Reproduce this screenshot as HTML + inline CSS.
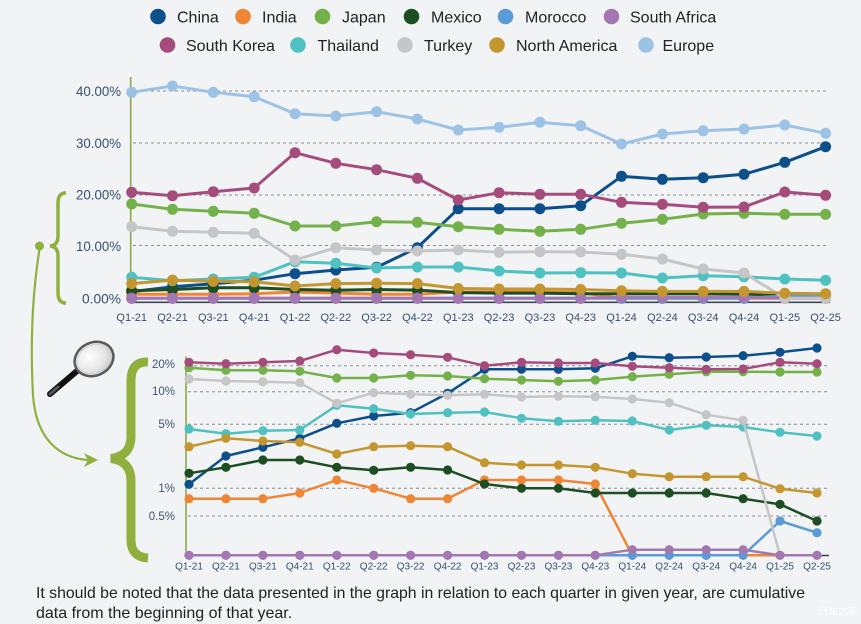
<!DOCTYPE html>
<html>
<head>
<meta charset="utf-8">
<style>
  html, body { margin:0; padding:0; background:#f2f3f5; }
  body { width:861px; height:624px; overflow:hidden; }
  svg { display:block; font-family:"Liberation Sans", Arial, sans-serif; }
</style>
</head>
<body>
<svg width="861" height="624" viewBox="0 0 861 624" xmlns="http://www.w3.org/2000/svg">
  <defs>
    <marker id="tChina" markerWidth="12" markerHeight="12" refX="6" refY="6" markerUnits="userSpaceOnUse"><circle cx="6" cy="6" r="5.5" fill="#0d4f8b"/></marker>
    <marker id="tIndia" markerWidth="12" markerHeight="12" refX="6" refY="6" markerUnits="userSpaceOnUse"><circle cx="6" cy="6" r="5.5" fill="#ef8636"/></marker>
    <marker id="tJapan" markerWidth="12" markerHeight="12" refX="6" refY="6" markerUnits="userSpaceOnUse"><circle cx="6" cy="6" r="5.5" fill="#74b14a"/></marker>
    <marker id="tMexico" markerWidth="12" markerHeight="12" refX="6" refY="6" markerUnits="userSpaceOnUse"><circle cx="6" cy="6" r="5.5" fill="#1d4d22"/></marker>
    <marker id="tMorocco" markerWidth="12" markerHeight="12" refX="6" refY="6" markerUnits="userSpaceOnUse"><circle cx="6" cy="6" r="5.5" fill="#5b9bd5"/></marker>
    <marker id="tSA" markerWidth="12" markerHeight="12" refX="6" refY="6" markerUnits="userSpaceOnUse"><circle cx="6" cy="6" r="5.5" fill="#a477b2"/></marker>
    <marker id="tSK" markerWidth="12" markerHeight="12" refX="6" refY="6" markerUnits="userSpaceOnUse"><circle cx="6" cy="6" r="5.5" fill="#a54c7c"/></marker>
    <marker id="tThai" markerWidth="12" markerHeight="12" refX="6" refY="6" markerUnits="userSpaceOnUse"><circle cx="6" cy="6" r="5.5" fill="#4fc1c0"/></marker>
    <marker id="tTurkey" markerWidth="12" markerHeight="12" refX="6" refY="6" markerUnits="userSpaceOnUse"><circle cx="6" cy="6" r="5.5" fill="#c6c6c6"/></marker>
    <marker id="tNA" markerWidth="12" markerHeight="12" refX="6" refY="6" markerUnits="userSpaceOnUse"><circle cx="6" cy="6" r="5.5" fill="#c4962f"/></marker>
    <marker id="tEU" markerWidth="12" markerHeight="12" refX="6" refY="6" markerUnits="userSpaceOnUse"><circle cx="6" cy="6" r="5.5" fill="#9cc3e6"/></marker>

    <marker id="bChina" markerWidth="10" markerHeight="10" refX="5" refY="5" markerUnits="userSpaceOnUse"><circle cx="5" cy="5" r="4.6" fill="#0d4f8b"/></marker>
    <marker id="bIndia" markerWidth="10" markerHeight="10" refX="5" refY="5" markerUnits="userSpaceOnUse"><circle cx="5" cy="5" r="4.6" fill="#ef8636"/></marker>
    <marker id="bJapan" markerWidth="10" markerHeight="10" refX="5" refY="5" markerUnits="userSpaceOnUse"><circle cx="5" cy="5" r="4.6" fill="#74b14a"/></marker>
    <marker id="bMexico" markerWidth="10" markerHeight="10" refX="5" refY="5" markerUnits="userSpaceOnUse"><circle cx="5" cy="5" r="4.6" fill="#1d4d22"/></marker>
    <marker id="bMorocco" markerWidth="10" markerHeight="10" refX="5" refY="5" markerUnits="userSpaceOnUse"><circle cx="5" cy="5" r="4.6" fill="#5b9bd5"/></marker>
    <marker id="bSA" markerWidth="10" markerHeight="10" refX="5" refY="5" markerUnits="userSpaceOnUse"><circle cx="5" cy="5" r="4.6" fill="#a477b2"/></marker>
    <marker id="bSK" markerWidth="10" markerHeight="10" refX="5" refY="5" markerUnits="userSpaceOnUse"><circle cx="5" cy="5" r="4.6" fill="#a54c7c"/></marker>
    <marker id="bThai" markerWidth="10" markerHeight="10" refX="5" refY="5" markerUnits="userSpaceOnUse"><circle cx="5" cy="5" r="4.6" fill="#4fc1c0"/></marker>
    <marker id="bTurkey" markerWidth="10" markerHeight="10" refX="5" refY="5" markerUnits="userSpaceOnUse"><circle cx="5" cy="5" r="4.6" fill="#c6c6c6"/></marker>
    <marker id="bNA" markerWidth="10" markerHeight="10" refX="5" refY="5" markerUnits="userSpaceOnUse"><circle cx="5" cy="5" r="4.6" fill="#c4962f"/></marker>

    <radialGradient id="lens" cx="0.4" cy="0.4" r="0.7">
      <stop offset="0" stop-color="#ffffff"/>
      <stop offset="0.6" stop-color="#e4e4e4"/>
      <stop offset="1" stop-color="#bdbdbd"/>
    </radialGradient>
  </defs>

  <!-- Legend -->
  <g font-size="16" fill="#222">
    <circle cx="158" cy="16.5" r="7.8" fill="#0d4f8b"/><text x="177" y="22.5">China</text>
    <circle cx="243" cy="16.5" r="7.8" fill="#ef8636"/><text x="262" y="22.5">India</text>
    <circle cx="322.5" cy="16.5" r="7.8" fill="#74b14a"/><text x="342" y="22.5">Japan</text>
    <circle cx="411.5" cy="16.5" r="7.8" fill="#1d4d22"/><text x="431" y="22.5">Mexico</text>
    <circle cx="505.5" cy="16.5" r="7.8" fill="#5b9bd5"/><text x="525" y="22.5">Morocco</text>
    <circle cx="611.5" cy="16.5" r="7.8" fill="#a477b2"/><text x="630" y="22.5">South Africa</text>

    <circle cx="167.5" cy="45" r="7.8" fill="#a54c7c"/><text x="186" y="51">South Korea</text>
    <circle cx="298" cy="45" r="7.8" fill="#4fc1c0"/><text x="317.5" y="51">Thailand</text>
    <circle cx="405" cy="45" r="7.8" fill="#c6c6c6"/><text x="424" y="51">Turkey</text>
    <circle cx="497" cy="45" r="7.8" fill="#c4962f"/><text x="516" y="51">North America</text>
    <circle cx="646" cy="45" r="7.8" fill="#9cc3e6"/><text x="662.5" y="51">Europe</text>
  </g>

  <!-- ===== TOP CHART ===== -->
  <g stroke="#8a8f96" stroke-width="1" stroke-dasharray="3,3">
    <line x1="133" y1="91" x2="829" y2="91"/>
    <line x1="133" y1="143" x2="829" y2="143"/>
    <line x1="133" y1="195" x2="829" y2="195"/>
    <line x1="133" y1="245.5" x2="829" y2="245.5"/>
  </g>
  <line x1="131" y1="302.3" x2="830" y2="302.3" stroke="#3b4656" stroke-width="1.6"/>
  <line x1="130.7" y1="77" x2="130.7" y2="302" stroke="#8aa84a" stroke-width="1.6"/>

  <g font-size="14" fill="#34506e" text-anchor="end">
    <text x="121" y="96" textLength="45" lengthAdjust="spacingAndGlyphs">40.00%</text>
    <text x="121" y="148" textLength="45" lengthAdjust="spacingAndGlyphs">30.00%</text>
    <text x="121" y="199.5" textLength="45" lengthAdjust="spacingAndGlyphs">20.00%</text>
    <text x="121" y="251" textLength="45" lengthAdjust="spacingAndGlyphs">10.00%</text>
    <text x="121" y="303.5" textLength="39" lengthAdjust="spacingAndGlyphs">0.00%</text>
  </g>

  <g font-size="11" fill="#34506e" text-anchor="middle">
    <text x="131.7" y="321">Q1-21</text>
    <text x="172.5" y="321">Q2-21</text>
    <text x="213.3" y="321">Q3-21</text>
    <text x="254.2" y="321">Q4-21</text>
    <text x="295" y="321">Q1-22</text>
    <text x="335.8" y="321">Q2-22</text>
    <text x="376.6" y="321">Q3-22</text>
    <text x="417.4" y="321">Q4-22</text>
    <text x="458.3" y="321">Q1-23</text>
    <text x="499.1" y="321">Q2-23</text>
    <text x="539.9" y="321">Q3-23</text>
    <text x="580.7" y="321">Q4-23</text>
    <text x="621.5" y="321">Q1-24</text>
    <text x="662.4" y="321">Q2-24</text>
    <text x="703.2" y="321">Q3-24</text>
    <text x="744" y="321">Q4-24</text>
    <text x="784.8" y="321">Q1-25</text>
    <text x="825.6" y="321">Q2-25</text>
  </g>

  <g fill="none" stroke-width="3" stroke-linejoin="round">
    <polyline stroke="#0d4f8b" marker-start="url(#tChina)" marker-mid="url(#tChina)" marker-end="url(#tChina)"
      points="131.7,291.7 172.5,286.7 213.3,283.8 254.2,280.2 295,273.7 335.8,270 376.6,267.3 417.4,247.7 458.3,208.7 499.1,208.7 539.9,208.7 580.7,205.7 621.5,176.3 662.4,179.3 703.2,177.7 744,174.3 784.8,162.3 825.6,146.7"/>
    <polyline stroke="#ef8636" marker-start="url(#tIndia)" marker-mid="url(#tIndia)" marker-end="url(#tIndia)"
      points="131.7,294.3 172.5,294.3 213.3,294.3 254.2,293.7 295,292 335.8,293.1 376.6,294.3 417.4,294.3 458.3,292 499.1,292 539.9,292 580.7,292.6 621.5,298.3 662.4,298.3 703.2,298.3 744,298.3 784.8,298.3 825.6,298.3"/>
    <polyline stroke="#74b14a" marker-start="url(#tJapan)" marker-mid="url(#tJapan)" marker-end="url(#tJapan)"
      points="131.7,204 172.5,209.3 213.3,211.3 254.2,213.3 295,226 335.8,226 376.6,221.7 417.4,222.3 458.3,226.7 499.1,229.3 539.9,231.3 580.7,229.3 621.5,223.3 662.4,219.3 703.2,214 744,213.3 784.8,214.3 825.6,214.3"/>
    <polyline stroke="#1d4d22" marker-start="url(#tMexico)" marker-mid="url(#tMexico)" marker-end="url(#tMexico)"
      points="131.7,290.7 172.5,289.5 213.3,287.7 254.2,287.7 295,289.5 335.8,290.2 376.6,289.5 417.4,290.1 458.3,292.6 499.1,293.1 539.9,293.1 580.7,293.7 621.5,293.7 662.4,293.7 703.2,293.7 744,294.3 784.8,294.8 825.6,296"/>
    <polyline stroke="#5b9bd5" marker-start="url(#tMorocco)" marker-mid="url(#tMorocco)" marker-end="url(#tMorocco)"
      points="131.7,298.3 172.5,298.3 213.3,298.3 254.2,298.3 295,298.3 335.8,298.3 376.6,298.3 417.4,298.3 458.3,298.3 499.1,298.3 539.9,298.3 580.7,298.3 621.5,298.3 662.4,298.3 703.2,298.3 744,298.3 784.8,296 825.6,296.6"/>
    <polyline stroke="#a477b2" marker-start="url(#tSA)" marker-mid="url(#tSA)" marker-end="url(#tSA)"
      points="131.7,298.3 172.5,298.3 213.3,298.3 254.2,298.3 295,298.3 335.8,298.3 376.6,298.3 417.4,298.3 458.3,298.3 499.1,298.3 539.9,298.3 580.7,298.3 621.5,297.3 662.4,297.3 703.2,297.3 744,297.3 784.8,298.3 825.6,298.3"/>
    <polyline stroke="#a54c7c" marker-start="url(#tSK)" marker-mid="url(#tSK)" marker-end="url(#tSK)"
      points="131.7,192.3 172.5,195.7 213.3,191.7 254.2,188 295,152.7 335.8,163.3 376.6,169.7 417.4,178.3 458.3,200 499.1,192.7 539.9,194.3 580.7,194.3 621.5,202.3 662.4,204.3 703.2,207.3 744,207 784.8,192 825.6,195.3"/>
    <polyline stroke="#4fc1c0" marker-start="url(#tThai)" marker-mid="url(#tThai)" marker-end="url(#tThai)"
      points="131.7,277.3 172.5,280.7 213.3,279 254.2,277.3 295,261.7 335.8,263.3 376.6,268 417.4,267 458.3,267 499.1,271 539.9,273 580.7,272.7 621.5,273 662.4,278 703.2,275.7 744,276.7 784.8,279 825.6,280.3"/>
    <polyline stroke="#c6c6c6" marker-start="url(#tTurkey)" marker-mid="url(#tTurkey)" marker-end="url(#tTurkey)"
      points="131.7,226.7 172.5,231.3 213.3,232.3 254.2,233.3 295,260 335.8,247.7 376.6,250 417.4,251 458.3,250 499.1,252.3 539.9,251.7 580.7,252 621.5,254.3 662.4,259 703.2,269 744,273 784.8,298.3 825.6,298.3"/>
    <polyline stroke="#c4962f" marker-start="url(#tNA)" marker-mid="url(#tNA)" marker-end="url(#tNA)"
      points="131.7,283.6 172.5,280.1 213.3,281.3 254.2,281.8 295,286 335.8,283.6 376.6,283.2 417.4,283.6 458.3,288.5 499.1,289 539.9,289 580.7,289.5 621.5,290.8 662.4,291.4 703.2,291.4 744,291.4 784.8,293.2 825.6,293.7"/>
    <polyline stroke="#9cc3e6" marker-start="url(#tEU)" marker-mid="url(#tEU)" marker-end="url(#tEU)"
      points="131.7,92.3 172.5,86 213.3,92.3 254.2,96.7 295,113.7 335.8,116 376.6,111.7 417.4,119 458.3,130 499.1,127.3 539.9,122.3 580.7,125.7 621.5,144 662.4,134 703.2,130.7 744,129 784.8,125 825.6,133.3"/>
  </g>

  <!-- ===== DECORATIONS ===== -->
  <path d="M66,193 Q58,193 58,203 L58,236 Q58,245.5 50,246 Q58,246.5 58,256 L58,293 Q58,303 66,303"
        fill="none" stroke="#8fb03f" stroke-width="3.5"/>
  <circle cx="39.5" cy="246" r="4.5" fill="#8fb03f"/>
  <path d="M39.5,249 C33,290 30,340 33,395 C36,440 60,458 88,460" fill="none" stroke="#8fb03f" stroke-width="2.2"/>
  <polygon points="98,460 84,453 88,460 84,467" fill="#8fb03f"/>
  <path d="M148,362 Q131,361 131,381 L131,436 Q131,456 111,458.5 Q131,461 131,481 L131,540 Q131,557 148,558"
        fill="none" stroke="#8fb03f" stroke-width="9"/>
  <line x1="50" y1="394" x2="77" y2="371" stroke="#111" stroke-width="6" stroke-linecap="round"/>
  <line x1="50" y1="394" x2="58" y2="387" stroke="#555" stroke-width="3" stroke-linecap="round"/>
  <ellipse cx="94" cy="359" rx="20" ry="16.5" transform="rotate(-25 94 359)" fill="url(#lens)" stroke="#5a5a5a" stroke-width="2.5"/>
  <ellipse cx="94" cy="359" rx="17.5" ry="14" transform="rotate(-25 94 359)" fill="none" stroke="#d0d0d0" stroke-width="1"/>

  <!-- ===== BOTTOM CHART ===== -->
  <g stroke="#8a8f96" stroke-width="1" stroke-dasharray="3,3">
    <line x1="188" y1="365.7" x2="828" y2="365.7"/>
    <line x1="188" y1="391.7" x2="828" y2="391.7"/>
    <line x1="188" y1="424.3" x2="828" y2="424.3"/>
    <line x1="188" y1="488.3" x2="828" y2="488.3"/>
    <line x1="188" y1="516" x2="828" y2="516"/>
  </g>
  <line x1="186" y1="555.5" x2="829" y2="555.5" stroke="#3b4656" stroke-width="1.6"/>
  <line x1="186" y1="356.5" x2="186" y2="555.5" stroke="#8aa84a" stroke-width="1.6"/>

  <g font-size="11.5" fill="#3d5570" text-anchor="end">
    <text x="175" y="368">20%</text>
    <text x="175" y="395">10%</text>
    <text x="175" y="428">5%</text>
    <text x="175" y="492">1%</text>
    <text x="175" y="520">0.5%</text>
  </g>

  <g font-size="10" fill="#34506e" text-anchor="middle">
    <text x="189" y="569.5">Q1-21</text>
    <text x="225.9" y="569.5">Q2-21</text>
    <text x="262.9" y="569.5">Q3-21</text>
    <text x="299.8" y="569.5">Q4-21</text>
    <text x="336.8" y="569.5">Q1-22</text>
    <text x="373.7" y="569.5">Q2-22</text>
    <text x="410.6" y="569.5">Q3-22</text>
    <text x="447.6" y="569.5">Q4-22</text>
    <text x="484.5" y="569.5">Q1-23</text>
    <text x="521.5" y="569.5">Q2-23</text>
    <text x="558.4" y="569.5">Q3-23</text>
    <text x="595.3" y="569.5">Q4-23</text>
    <text x="632.3" y="569.5">Q1-24</text>
    <text x="669.2" y="569.5">Q2-24</text>
    <text x="706.2" y="569.5">Q3-24</text>
    <text x="743.1" y="569.5">Q4-24</text>
    <text x="780" y="569.5">Q1-25</text>
    <text x="817" y="569.5">Q2-25</text>
  </g>

  <g fill="none" stroke-width="2.5" stroke-linejoin="round">
    <polyline stroke="#0d4f8b" marker-start="url(#bChina)" marker-mid="url(#bChina)" marker-end="url(#bChina)"
      points="189,484.3 225.9,456 262.9,447.3 299.8,438.3 336.8,423.3 373.7,416 410.6,412.7 447.6,393.3 484.5,369.3 521.5,369.3 558.4,369.3 595.3,368.3 632.3,356.3 669.2,357.7 706.2,357 743.1,355.7 780,352.3 817,348"/>
    <polyline stroke="#ef8636" marker-start="url(#bIndia)" marker-mid="url(#bIndia)" marker-end="url(#bIndia)"
      points="189,498.7 225.9,498.7 262.9,498.7 299.8,493 336.8,480 373.7,488.3 410.6,498.7 447.6,498.7 484.5,480 521.5,480 558.4,480 595.3,484 632.3,555.3 669.2,555.3 706.2,555.3 743.1,555.3 780,555.3 817,555.3"/>
    <polyline stroke="#74b14a" marker-start="url(#bJapan)" marker-mid="url(#bJapan)" marker-end="url(#bJapan)"
      points="189,367.7 225.9,370.3 262.9,370.3 299.8,371.3 336.8,378 373.7,378 410.6,375.3 447.6,376 484.5,378.7 521.5,380 558.4,381.3 595.3,380 632.3,376.7 669.2,374.3 706.2,371.7 743.1,371.7 780,372 817,372"/>
    <polyline stroke="#1d4d22" marker-start="url(#bMexico)" marker-mid="url(#bMexico)" marker-end="url(#bMexico)"
      points="189,473.3 225.9,467.3 262.9,460 299.8,460 336.8,467.3 373.7,470.3 410.6,467.3 447.6,470 484.5,484 521.5,488.3 558.4,488.3 595.3,493 632.3,493 669.2,493 706.2,493 743.1,498.7 780,504.3 817,521"/>
    <polyline stroke="#5b9bd5" marker-start="url(#bMorocco)" marker-mid="url(#bMorocco)" marker-end="url(#bMorocco)"
      points="189,555.3 225.9,555.3 262.9,555.3 299.8,555.3 336.8,555.3 373.7,555.3 410.6,555.3 447.6,555.3 484.5,555.3 521.5,555.3 558.4,555.3 595.3,555.3 632.3,555.3 669.2,555.3 706.2,555.3 743.1,555.3 780,521 817,532.7"/>
    <polyline stroke="#a54c7c" marker-start="url(#bSK)" marker-mid="url(#bSK)" marker-end="url(#bSK)"
      points="189,362.3 225.9,363.7 262.9,362.3 299.8,361 336.8,349.7 373.7,353 410.6,354.7 447.6,357.3 484.5,365.7 521.5,362.3 558.4,363 595.3,363 632.3,366.3 669.2,367.7 706.2,369.3 743.1,369 780,362.3 817,363.7"/>
    <polyline stroke="#4fc1c0" marker-start="url(#bThai)" marker-mid="url(#bThai)" marker-end="url(#bThai)"
      points="189,429 225.9,433.7 262.9,430.7 299.8,430 336.8,405.3 373.7,408.7 410.6,414 447.6,412.7 484.5,412 521.5,418.3 558.4,421.3 595.3,420.3 632.3,421 669.2,430 706.2,425.3 743.1,427 780,432.3 817,436"/>
    <polyline stroke="#c6c6c6" marker-start="url(#bTurkey)" marker-mid="url(#bTurkey)" marker-end="url(#bTurkey)"
      points="189,379 225.9,381 262.9,381.7 299.8,382.7 336.8,403.3 373.7,392.7 410.6,394.3 447.6,395.3 484.5,394.3 521.5,397 558.4,396.3 595.3,396.7 632.3,399 669.2,402.7 706.2,414.7 743.1,420.3 780,555.3 817,555.3"/>
    <polyline stroke="#c4962f" marker-start="url(#bNA)" marker-mid="url(#bNA)" marker-end="url(#bNA)"
      points="189,446.7 225.9,438.3 262.9,441 299.8,442.3 336.8,454 373.7,446.7 410.6,445.7 447.6,446.7 484.5,462.7 521.5,465 558.4,465 595.3,467.3 632.3,473.7 669.2,476.7 706.2,476.7 743.1,476.7 780,488.7 817,493"/>
    <polyline stroke="#a477b2" marker-start="url(#bSA)" marker-mid="url(#bSA)" marker-end="url(#bSA)"
      points="189,555.3 225.9,555.3 262.9,555.3 299.8,555.3 336.8,555.3 373.7,555.3 410.6,555.3 447.6,555.3 484.5,555.3 521.5,555.3 558.4,555.3 595.3,555.3 632.3,549.7 669.2,549.7 706.2,549.7 743.1,549.7 780,555.3 817,555.3"/>
  </g>

  <!-- Footer -->
  <g font-size="16" fill="#222">
    <text x="36" y="598" textLength="769" lengthAdjust="spacingAndGlyphs">It should be noted that the data presented in the graph in relation to each quarter in given year, are cumulative</text>
    <text x="36" y="618">data from the beginning of that year.</text>
  </g>
  <text x="818" y="615" font-size="10" fill="#ffffff" fill-opacity="0.85" font-family="'Liberation Sans','Noto Sans CJK SC',sans-serif">汽车之家</text>
</svg>
</body>
</html>
